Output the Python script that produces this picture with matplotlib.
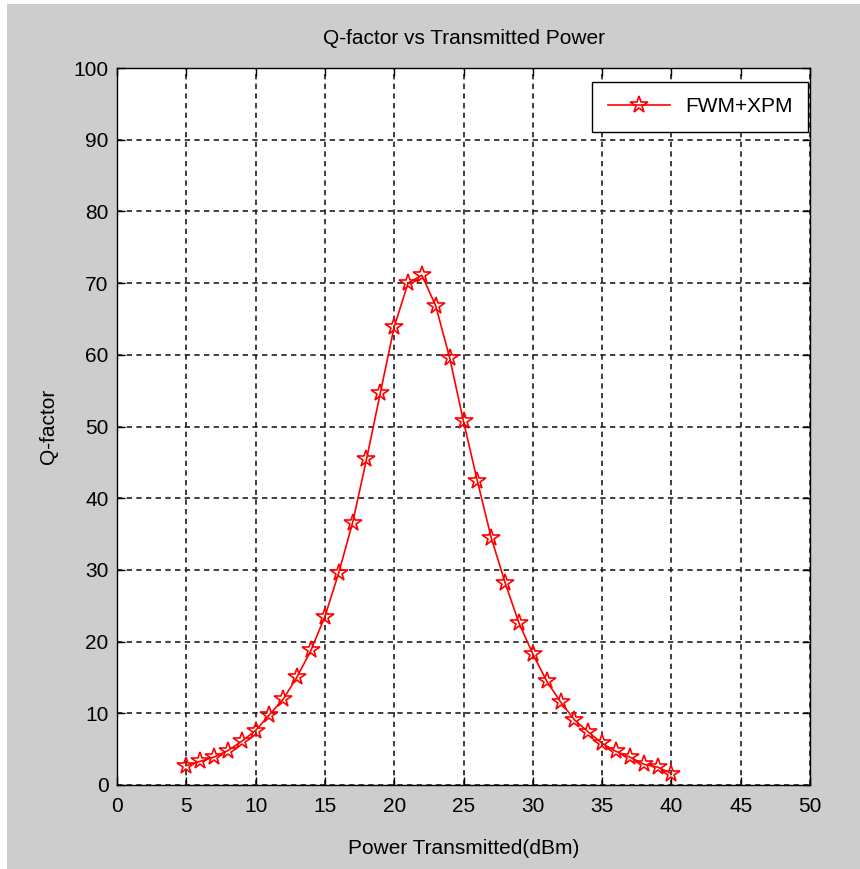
import matplotlib
matplotlib.use("Agg")
import matplotlib.pyplot as plt
from matplotlib.patches import Rectangle

# данные
power_dbm = [5, 6, 7, 8, 9, 10, 11, 12, 13, 14, 15, 16, 17, 18, 19, 20, 21, 22,
             23, 24, 25, 26, 27, 28, 29, 30, 31, 32, 33, 34, 35, 36, 37, 38, 39, 40]
q_factor = [2.7, 3.3, 3.9, 4.8, 6.1, 7.6, 9.8, 12.0, 15.1, 18.8, 23.5, 29.6, 36.6, 45.4,
            54.7, 63.9, 70.0, 71.1, 66.8, 59.6, 50.7, 42.4, 34.5, 28.2, 22.6, 18.3,
            14.5, 11.6, 9.1, 7.4, 5.8, 4.7, 3.9, 2.9, 2.5, 1.6]
x_ticks = list(range(0, 51, 5))
y_ticks = list(range(0, 101, 10))

plt.rcParams['font.family'] = ['Liberation Sans', 'DejaVu Sans']
fs = 15

fig = plt.figure(figsize=(8.6, 8.69), dpi=100, facecolor='white')
# серый фон окна с белой полоской слева и сверху
fig.patches.append(Rectangle((7 / 860, 0), 1, 1 - 4 / 869, transform=fig.transFigure,
                             facecolor='#cdcdcd', edgecolor='none', zorder=-10))

ax = fig.add_axes([117 / 860, 1 - 785 / 869, (810 - 117) / 860, (785 - 68) / 869])
ax.set_facecolor('white')

ax.plot(power_dbm, q_factor, color='red', linewidth=1.2, marker='*',
        markersize=13, markerfacecolor='none', markeredgecolor='red',
        markeredgewidth=1.2, label='FWM+XPM', zorder=3)

ax.set_xlim(0, 50)
ax.set_ylim(0, 100)
ax.set_xticks(x_ticks)
ax.set_yticks(y_ticks)
ax.tick_params(direction='in', length=6, width=1, top=True, right=True,
               labelsize=fs)
ax.tick_params(axis='x', pad=9)
ax.tick_params(axis='y', pad=6)
ax.grid(True, color='#202020', linestyle=(0, (3.2, 2.6)), linewidth=1.2)
for s in ax.spines.values():
    s.set_linewidth(1.0)

ax.set_title('Q-factor vs Transmitted Power', fontsize=fs, pad=17)
ax.set_xlabel('Power Transmitted(dBm)', fontsize=fs, labelpad=16)
ax.set_ylabel('Q-factor', fontsize=fs, labelpad=11)

leg = ax.legend(loc='upper right', bbox_to_anchor=(0.997, 0.981), borderaxespad=0,
                fontsize=fs, fancybox=False, framealpha=1, edgecolor='black',
                handlelength=3.0, handletextpad=0.7, borderpad=0.75)
leg.get_frame().set_linewidth(1.0)

fig.savefig('out.png', dpi=100, facecolor=fig.get_facecolor())
